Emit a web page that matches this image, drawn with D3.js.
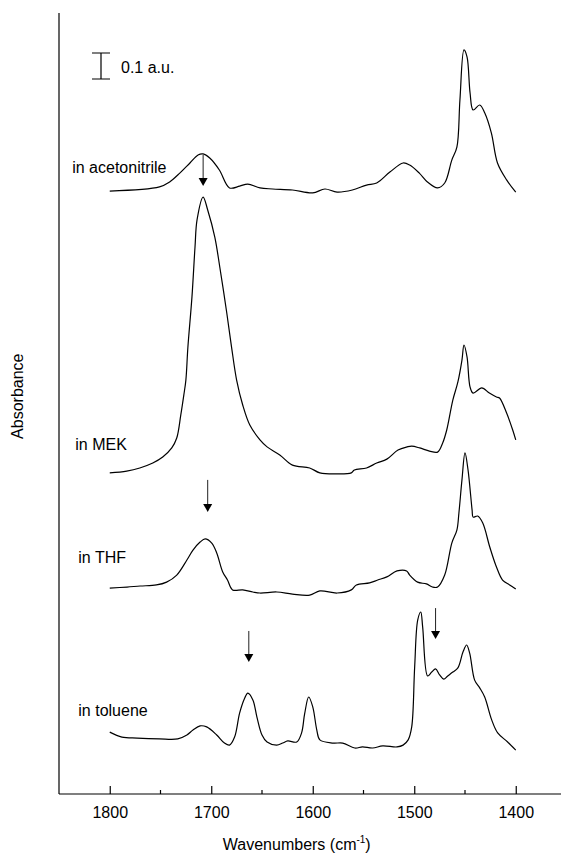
<!DOCTYPE html>
<html><head><meta charset="utf-8">
<script src="https://cdn.jsdelivr.net/npm/d3@7"></script>
<style>body{margin:0;background:#fff}svg{display:block}text{font-family:Arial,"Liberation Sans",sans-serif;fill:#000}</style>
</head><body><svg id="c" width="561" height="855"></svg>
<script>
// wavenumber (cm-1) / absorbance (a.u., offset included) pairs
const acnW = [1800,1751,1741,1731,1721,1713,1708,1701.5,1692,1682,1672,1664,1652,1639.5,1620,1600,1588,1576,1561,1547,1537,1524,1511,1504.5,1495,1487,1477,1470,1463,1458,1455,1451,1448,1445,1442,1435.5,1430.5,1424,1418,1409,1400];
const acnA = [2.319,2.335,2.354,2.388,2.427,2.458,2.462,2.446,2.400,2.331,2.338,2.346,2.331,2.327,2.323,2.312,2.327,2.315,2.323,2.342,2.350,2.392,2.427,2.419,2.388,2.354,2.331,2.350,2.438,2.488,2.669,2.862,2.835,2.696,2.631,2.650,2.619,2.542,2.427,2.362,2.315];
const mekW = [1800,1783.3,1770.4,1757.6,1747.8,1738.9,1734,1730,1727,1725,1723,1719,1716,1714,1708,1703.5,1696.5,1691.6,1684.7,1680,1675,1669,1662,1652,1645,1632.5,1620,1603,1593,1576,1562,1559,1547,1537,1527,1516,1507,1502.5,1494.6,1485,1477,1472,1468,1462,1457,1453,1451,1448,1445,1442,1433.5,1426,1419,1416,1409,1403,1400];
const mekA = [1.235,1.242,1.254,1.273,1.296,1.331,1.369,1.458,1.535,1.592,1.719,1.912,2.104,2.208,2.296,2.246,2.142,2.027,1.850,1.719,1.592,1.496,1.419,1.362,1.335,1.304,1.265,1.254,1.235,1.231,1.235,1.246,1.254,1.273,1.288,1.323,1.335,1.338,1.331,1.319,1.315,1.350,1.400,1.515,1.585,1.669,1.727,1.681,1.565,1.542,1.562,1.542,1.527,1.523,1.465,1.400,1.362];
const thfW = [1800,1783,1770,1754,1744,1734,1724,1718,1711,1706,1699.5,1694.6,1688.7,1684,1679,1669,1659,1652,1635.5,1620,1603,1593,1576,1562,1557,1544,1536,1527,1517,1507.5,1504.5,1496.7,1488,1482,1477,1470,1463,1458,1456,1453,1450,1447,1443,1442,1437.5,1432.5,1425.6,1419,1413,1406,1400];
const thfA = [0.792,0.796,0.800,0.804,0.815,0.842,0.900,0.938,0.969,0.981,0.965,0.927,0.854,0.823,0.785,0.785,0.777,0.773,0.777,0.769,0.765,0.781,0.773,0.785,0.804,0.812,0.823,0.835,0.858,0.858,0.842,0.815,0.808,0.796,0.796,0.842,0.965,1.015,1.081,1.208,1.312,1.246,1.092,1.065,1.069,1.042,0.950,0.873,0.823,0.804,0.788];
const tolW = [1800,1788,1773,1751,1733,1724,1718,1711,1704.5,1694.6,1687,1682,1677,1672,1667,1664,1659,1655,1650,1645,1635.5,1629.6,1624.6,1615.8,1611,1608,1604,1600,1596,1593,1580,1570.5,1558.6,1551,1541,1531,1517,1511,1506,1502.5,1499.6,1496.6,1493.6,1491.7,1486.8,1482.8,1479,1475,1471,1467,1462,1457,1452,1448.4,1445.4,1440.5,1435.5,1430.6,1423.7,1417.8,1408,1400];
const tolA = [0.238,0.219,0.215,0.212,0.212,0.227,0.246,0.262,0.258,0.227,0.196,0.188,0.219,0.312,0.369,0.388,0.362,0.296,0.227,0.200,0.188,0.196,0.204,0.200,0.235,0.308,0.373,0.335,0.246,0.208,0.196,0.196,0.177,0.181,0.177,0.185,0.181,0.188,0.208,0.258,0.488,0.669,0.700,0.642,0.454,0.469,0.481,0.458,0.442,0.454,0.469,0.485,0.546,0.573,0.542,0.438,0.408,0.373,0.285,0.235,0.200,0.169];

const seriesNames = ["in acetonitrile","in MEK","in THF","in toluene"];
const labelW = [1837,1834,1831,1831];      // label anchor (wavenumber)
const labelA = [2.39,1.323,0.89,0.30];     // label baseline (a.u.)
// arrows: wavenumber, start a.u., tip a.u.
const arrowW = [1708,1703.5,1663,1479];
const arrowFrom = [2.458,1.208,0.627,0.715];
const arrowTo = [2.338,1.085,0.508,0.596];
const xTicks = [1800,1700,1600,1500,1400];
const xMinor = [1750,1650,1550,1450,1350];
const scaleBarA = [2.75,2.85]; // 0.1 a.u.

const svg = d3.select("#c");
const x = d3.scaleLinear().domain([1850,1350]).range([59,566.5]);
const y = d3.scaleLinear().domain([0,3]).range([794,14]);

// axes
const xAxis = d3.axisBottom(x).tickValues(xTicks).tickSize(-8).tickPadding(13).tickFormat(d3.format("d"));
const gx = svg.append("g").attr("transform","translate(0,794)").call(xAxis);
gx.select(".domain").attr("d",`M${x(1850)},0H${x(1350)}`).attr("stroke","#000").attr("stroke-width",1.2);
gx.selectAll(".tick line").attr("stroke","#000").attr("stroke-width",1.2);
gx.selectAll(".tick text").attr("font-size",16).attr("font-family","Arial, 'Liberation Sans', sans-serif").attr("fill","#000");
svg.append("g").selectAll("line").data(xMinor).join("line")
  .attr("x1",d=>x(d)).attr("x2",d=>x(d)).attr("y1",794).attr("y2",790)
  .attr("stroke","#000").attr("stroke-width",1.2);
svg.append("line").attr("x1",x(1850)).attr("x2",x(1850)).attr("y1",y(3.004)).attr("y2",794)
  .attr("stroke","#000").attr("stroke-width",1.2);

svg.append("text").attr("x",(x(1850)+x(1350))/2-16).attr("y",850).attr("text-anchor","middle").attr("font-size",16)
  .text("Wavenumbers (cm").append("tspan").attr("dy",-7).attr("font-size",10).text("-1")
  .select(function(){return this.parentNode;}).append("tspan").attr("dy",7).attr("font-size",16).text(")");
svg.append("text").attr("transform",`translate(23,${y(1.53)}) rotate(-90)`).attr("text-anchor","middle").attr("font-size",16).text("Absorbance");

// spectra
const line = d3.line().x(d=>x(d[0])).y(d=>y(d[1])).curve(d3.curveCatmullRom.alpha(0.5));
const data = [[acnW,acnA],[mekW,mekA],[thfW,thfA],[tolW,tolA]];
data.forEach(([w,a])=>{
  svg.append("path").datum(w.map((v,i)=>[v,a[i]])).attr("d",line)
    .attr("fill","none").attr("stroke","#000").attr("stroke-width",1.2).attr("stroke-linejoin","round");
});
seriesNames.forEach((n,i)=>{
  svg.append("text").attr("x",x(labelW[i])).attr("y",y(labelA[i])).attr("font-size",16).text(n);
});

// arrows
arrowW.forEach((w,i)=>{
  const xa=x(w), y0=y(arrowFrom[i]), y1=y(arrowTo[i]);
  svg.append("line").attr("x1",xa).attr("x2",xa).attr("y1",y0).attr("y2",y1-6).attr("stroke","#222").attr("stroke-width",1);
  svg.append("path").attr("d",`M${xa-4.5},${y1-8}L${xa+4.5},${y1-8}L${xa},${y1}Z`).attr("fill","#000");
});

// scale bar
const sbx = 101;
svg.append("path").attr("d",`M${sbx},${y(scaleBarA[0])}V${y(scaleBarA[1])}M${sbx-9},${y(scaleBarA[0])}H${sbx+9}M${sbx-9},${y(scaleBarA[1])}H${sbx+9}`)
  .attr("stroke","#000").attr("stroke-width",1.2).attr("fill","none");
svg.append("text").attr("x",121).attr("y",73).attr("font-size",16).text("0.1 a.u.");
</script></body></html>
